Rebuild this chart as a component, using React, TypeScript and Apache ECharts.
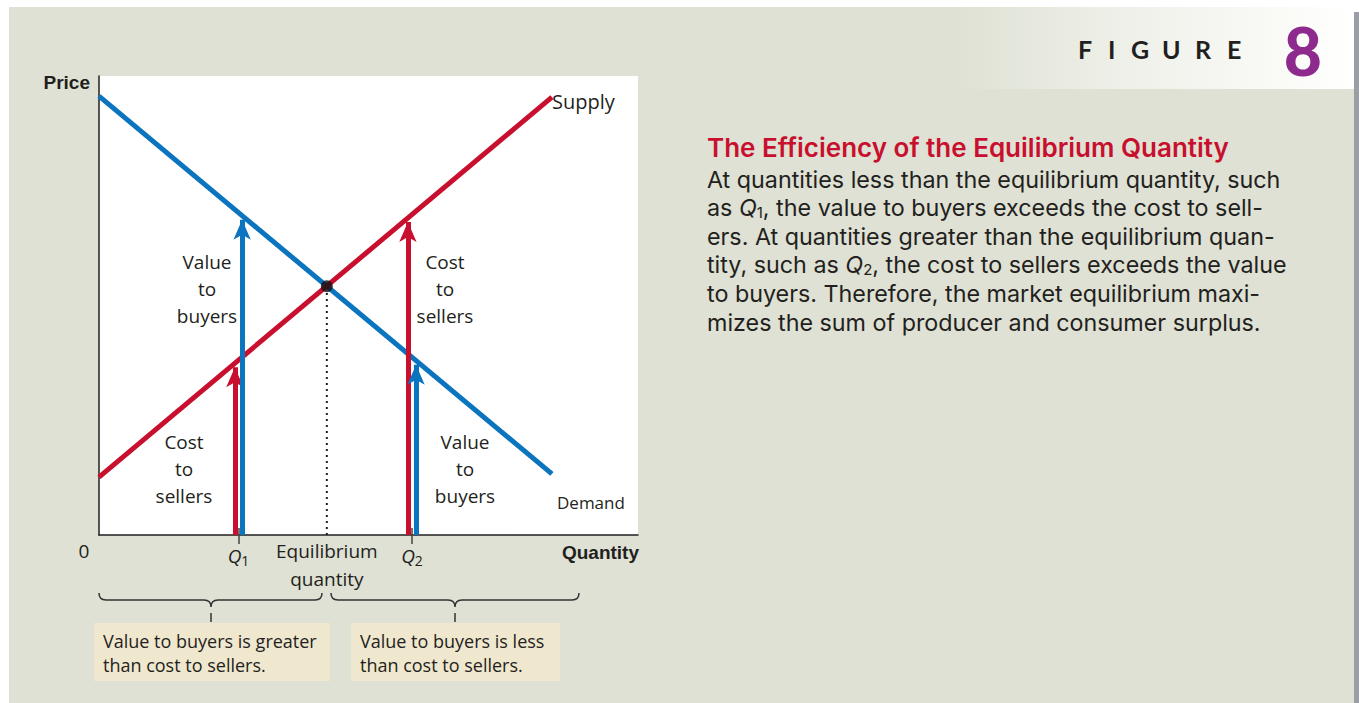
import React, { useEffect, useRef } from "react";
import * as echarts from "echarts";

// ---- data ----
const demandLine: [number, number][] = [[0, 95.6], [100, 13.3]];
const supplyLine: [number, number][] = [[0, 12.6], [100, 95.4]];
const equilibrium: [number, number] = [50.3, 54.2];
const qTickValues = [30.8, 69.1];
const qTickNames = ["1", "2"];
const arrowQuantities = [30.0, 31.6, 68.2, 70.0];
const arrowCurves = ["supply", "demand", "supply", "demand"];
const xMax = 119;
const yMax = 100;

const paragraphLines = [
  "At quantities less than the equilibrium quantity, such",
  "as {i|Q}{s|1}, the value to buyers exceeds the cost to sell-",
  "ers. At quantities greater than the equilibrium quan-",
  "tity, such as {i|Q}{s|2}, the cost to sellers exceeds the value",
  "to buyers. Therefore, the market equilibrium maxi-",
  "mizes the sum of producer and consumer surplus.",
];

const RED = "#c8102e";
const BLUE = "#0b74bf";
const TXT = "#231f20";
const FONT = "'Open Sans', sans-serif";
const BOLD = "'Liberation Sans', Arial, sans-serif";
const PFONT = "Inter, 'Open Sans', sans-serif";
const FIGFONT = "Lato, 'Open Sans', sans-serif";

let registered = false;
function registerShapes() {
  if (registered) return;
  registered = true;
  echarts.graphic.registerShape(
    "braceL",
    echarts.graphic.extendPath(
      "M99,593 Q99,600 106,600 L204,600 Q211,600 211,607 Q211,600 218,600 L315,600 Q322,600 322,593",
      {}
    )
  );
  echarts.graphic.registerShape(
    "braceR",
    echarts.graphic.extendPath(
      "M331,593 Q331,600 338,600 L448,600 Q455,600 455,607 Q455,600 462,600 L572,600 Q579,600 579,593",
      {}
    )
  );
}

function priceAt(line: [number, number][], q: number) {
  const [a, b] = line;
  return a[1] + ((b[1] - a[1]) * (q - a[0])) / (b[0] - a[0]);
}

export default function App() {
  const ref = useRef<HTMLDivElement>(null);
  useEffect(() => {
    if (!ref.current) return;
    registerShapes();
    const chart = echarts.init(ref.current, undefined, { renderer: "svg" });

    const tipGap = 0.9; // keep the arrow tip on the curve
    const arrowData = arrowQuantities.map((q, i) => {
      const isSupply = arrowCurves[i] === "supply";
      const y = priceAt(isSupply ? supplyLine : demandLine, q) - tipGap;
      const c = isSupply ? RED : BLUE;
      return [
        { coord: [q, 0], lineStyle: { color: c, width: 5, type: "solid" }, itemStyle: { color: c } },
        { coord: [q, y] },
      ];
    });

    const textEls: any[] = [];
    const addText = (text: string, x: number, y: number, extra: any = {}) =>
      textEls.push({
        type: "text",
        x,
        y,
        style: {
          text,
          fill: TXT,
          fontFamily: FONT,
          fontSize: 19,
          align: "center",
          verticalAlign: "middle",
          lineHeight: 27,
          ...extra,
        },
      });

    addText("Value\nto\nbuyers", 207, 289);
    addText("Cost\nto\nsellers", 445, 289);
    addText("Cost\nto\nsellers", 184, 469);
    addText("Value\nto\nbuyers", 465, 469);
    addText("Supply", 552, 101, { align: "left", fontSize: 20 });
    addText("Demand", 557, 502, { align: "left", fontSize: 17 });
    addText("0", 84, 551, { fontSize: 19 });
    addText("Price", 90, 82, { align: "right", fontFamily: BOLD, fontWeight: "bold", fontSize: 19 });
    addText("Quantity", 639, 552, { align: "right", fontFamily: BOLD, fontWeight: "bold", fontSize: 19 });

    // boxes
    const boxes = [
      { x: 94, w: 236, t: "Value to buyers is greater\nthan cost to sellers." },
      { x: 351, w: 209, t: "Value to buyers is less\nthan cost to sellers." },
    ];
    const boxEls: any[] = [];
    boxes.forEach((b) => {
      boxEls.push({ type: "rect", shape: { x: b.x, y: 623, width: b.w, height: 58 }, style: { fill: "#f0e7cf" } });
      boxEls.push({
        type: "text",
        x: b.x + 9,
        y: 653,
        style: { text: b.t, fill: TXT, fontFamily: FONT, fontSize: 18, lineHeight: 24, align: "left", verticalAlign: "middle" },
      });
    });

    const braceEls: any[] = [
      { type: "braceL", x: 0, y: 0, style: { stroke: "#333", fill: null, lineWidth: 1.5 } },
      { type: "braceR", x: 0, y: 0, style: { stroke: "#333", fill: null, lineWidth: 1.5 } },
      { type: "line", shape: { x1: 211, y1: 613, x2: 211, y2: 622 }, style: { stroke: "#333", lineWidth: 1.5 } },
      { type: "line", shape: { x1: 455, y1: 613, x2: 455, y2: 622 }, style: { stroke: "#333", lineWidth: 1.5 } },
    ];

    // right side text
    const rightEls: any[] = [];
    rightEls.push({
      type: "text",
      x: 707,
      y: 147,
      style: {
        text: "The Efficiency of the Equilibrium Quantity",
        fill: RED,
        fontFamily: PFONT,
        fontWeight: 600,
        fontSize: 26,
        lineHeight: 30,
        align: "left",
        verticalAlign: "middle",
      },
    });
    paragraphLines.forEach((line, i) => {
      rightEls.push({
        type: "text",
        x: 707,
        y: 179 + i * 28.6,
        style: {
          text: line,
          fill: TXT,
          fontFamily: PFONT,
          fontSize: 23.3,
          lineHeight: 27,
          align: "left",
          verticalAlign: "middle",
          rich: {
            i: { fontFamily: PFONT, fontSize: 23.3, fontStyle: "italic", fill: TXT, lineHeight: 27 },
            s: { fontFamily: PFONT, fontSize: 15, fill: TXT, lineHeight: 17, padding: [9, 0, 0, 0] },
          },
        },
      });
    });
    const figLetters = ["F", "I", "G", "U", "R", "E"];
    const figX = [1078, 1108, 1131, 1162, 1195, 1227];
    figLetters.forEach((l, i) => {
      rightEls.push({
        type: "text",
        x: figX[i],
        y: 49,
        style: { text: l, fill: TXT, fontFamily: FIGFONT, fontWeight: "bold", fontSize: 25, align: "left", verticalAlign: "middle" },
      });
    });
    rightEls.push({
      type: "text",
      x: 1303,
      y: 50,
      style: { text: "8", fill: "#8e2a8e", fontFamily: FIGFONT, fontWeight: 900, fontSize: 66, align: "center", verticalAlign: "middle" },
    });

    const option: any = {
      animation: false,
      backgroundColor: "transparent",
      grid: { left: 99, top: 76, width: 539, height: 459, show: true, backgroundColor: "#fff", borderWidth: 0 },
      xAxis: [
        {
          type: "value",
          min: 0,
          max: xMax,
          splitLine: { show: false },
          axisLine: { show: true, onZero: false, lineStyle: { color: TXT, width: 1.5 } },
          axisTick: { show: true, customValues: qTickValues, length: 9, lineStyle: { color: "#444", width: 1.5 } },
          axisLabel: {
            show: true,
            customValues: [qTickValues[0], equilibrium[0], qTickValues[1]],
            margin: 2,
            formatter: (v: number) => {
              const k = qTickValues.findIndex((t) => Math.abs(t - v) < 1e-6);
              if (k >= 0) return "{q|Q}{s|" + qTickNames[k] + "}";
              return "{e|Equilibrium}\n{e|quantity}";
            },
            rich: {
              q: { fontFamily: FONT, fontSize: 19, fontStyle: "italic", color: TXT, lineHeight: 38 },
              s: { fontFamily: FONT, fontSize: 14, color: TXT, lineHeight: 38, padding: [8, 0, 0, 0] },
              e: { fontFamily: FONT, fontSize: 19, color: TXT, lineHeight: 28 },
            },
          },
        },
        {
          type: "value",
          min: 0,
          max: xMax,
          position: "bottom",
          splitLine: { show: false },
          axisLine: { show: false },
          axisLabel: { show: false },
          axisTick: { show: true, inside: true, customValues: qTickValues, length: 7, lineStyle: { color: "#444", width: 1.5 } },
        },
      ],
      yAxis: {
        type: "value",
        min: 0,
        max: yMax,
        splitLine: { show: false },
        axisLine: { show: true, onZero: false, lineStyle: { color: TXT, width: 1.5 } },
        axisTick: { show: false },
        axisLabel: { show: false },
      },
      series: [
        {
          name: "Dotted",
          type: "line",
          data: [[equilibrium[0], 0], equilibrium],
          symbol: "none",
          lineStyle: { color: TXT, width: 2, type: [2, 4] },
          z: 1,
        },
        {
          name: "Arrows",
          type: "line",
          data: [],
          markLine: {
            silent: true,
            symbol: ["none", "arrow"],
            symbolSize: [13, 20],
            label: { show: false },
            emphasis: { disabled: true },
            data: arrowData,
          },
          z: 2,
        },
        {
          name: "Demand",
          type: "line",
          data: demandLine,
          symbol: "none",
          lineStyle: { color: BLUE, width: 5 },
          z: 3,
        },
        {
          name: "Supply",
          type: "line",
          data: supplyLine,
          symbol: "none",
          lineStyle: { color: RED, width: 5 },
          z: 4,
        },
        {
          name: "Equilibrium",
          type: "scatter",
          data: [equilibrium],
          symbolSize: 12,
          itemStyle: { color: "#111" },
          z: 5,
        },
      ],
      graphic: { elements: [...textEls, ...boxEls, ...braceEls, ...rightEls] },
    };
    chart.setOption(option);
    return () => chart.dispose();
  }, []);

  return (
    <div style={{ position: "fixed", left: 0, top: 0, width: 1359, height: 703, background: "#fff", overflow: "hidden" }}>
      <div style={{ position: "absolute", left: 9, top: 7, width: 1345, height: 696, background: "#dee1d3" }} />
      <div
        style={{
          position: "absolute",
          left: 955,
          top: 7,
          width: 399,
          height: 82,
          background: "linear-gradient(to right, #dee1d3 0%, #eceee6 35%, #fbfbf8 85%, #ffffff 100%)",
        }}
      />
      <div style={{ position: "absolute", left: 1354, top: 12, width: 5, height: 691, background: "#9b9fa5" }} />
      <div ref={ref} style={{ position: "absolute", left: 0, top: 0, width: 1359, height: 703 }} />
    </div>
  );
}
